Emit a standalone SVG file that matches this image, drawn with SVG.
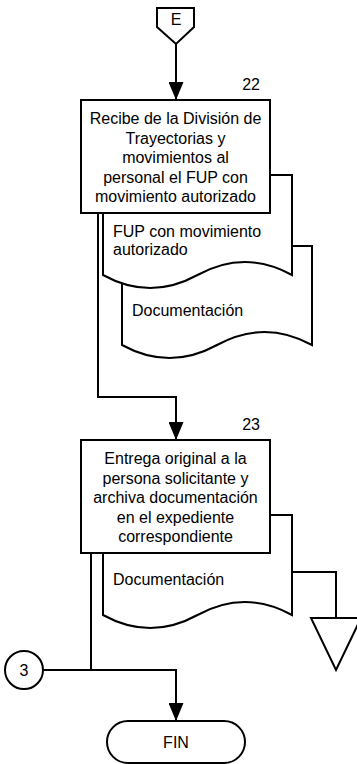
<svg xmlns="http://www.w3.org/2000/svg" width="357" height="764" viewBox="0 0 357 764">
<style>
.s{fill:#fff;stroke:#000;stroke-width:2}
.l{fill:none;stroke:#000;stroke-width:2}
text{font-family:"Liberation Sans",Arial,sans-serif;font-size:16px;fill:#000}
.c{text-anchor:middle}
.r{text-anchor:end}
</style>
<defs>
<marker id="ah" markerWidth="18" markerHeight="15" refX="18" refY="7.5" viewBox="0 0 18 15" markerUnits="userSpaceOnUse" orient="auto">
<path d="M0,0 L18,7.5 L0,15 Z" fill="#000"/>
</marker>
</defs>
<rect width="357" height="764" fill="#fff"/>
<g id="connectors">
<path class="l" d="M176,44 L176,100" marker-end="url(#ah)"/>
<path class="l" d="M98,213 L98,397 L176,397 L176,440" marker-end="url(#ah)"/>
<path class="l" d="M91,553 L91,670"/>
<path class="l" d="M43,670 L176,670 L176,721" marker-end="url(#ah)"/>
<path class="l" d="M292,572 L336,572 L336,618"/>
</g>
<g id="E">
<path class="s" d="M157,8 L194,8 L194,27 L176,44 L157,27 Z"/>
<text class="c" x="176" y="25">E</text>
</g>
<g id="doc2">
<path class="s" d="M122,246 L312,246 L312,345 Q264.5,319 217,345 T122,345 Z"/>
<text x="132" y="316">Documentación</text>
</g>
<g id="doc1">
<path class="s" d="M103,175 L292,175 L292,275 Q244.75,249 197.5,275 T103,275 Z"/>
<text x="113" y="237">FUP con movimiento</text>
<text x="113" y="255">autorizado</text>
</g>
<g id="n22">
<rect class="s" x="81" y="100" width="189" height="113"/>
<text class="r" x="260" y="90">22</text>
<text class="c" x="175.5" y="124">Recibe de la División de</text>
<text class="c" x="175.5" y="143.5">Trayectorias y</text>
<text class="c" x="175.5" y="163">movimientos al</text>
<text class="c" x="175.5" y="182.5">personal el FUP con</text>
<text class="c" x="175.5" y="202">movimiento autorizado</text>
</g>
<g id="doc3">
<path class="s" d="M103,515 L292,515 L292,615 Q244.75,589 197.5,615 T103,615 Z"/>
<text x="113" y="585">Documentación</text>
</g>
<g id="n23">
<rect class="s" x="81" y="440" width="189" height="113"/>
<text class="r" x="260" y="430">23</text>
<text class="c" x="175.5" y="464">Entrega original a la</text>
<text class="c" x="175.5" y="483.5">persona solicitante y</text>
<text class="c" x="175.5" y="503">archiva documentación</text>
<text class="c" x="175.5" y="522.5">en el expediente</text>
<text class="c" x="175.5" y="542">correspondiente</text>
</g>
<g id="archivo">
<path class="s" d="M311,618 L361,618 L336,670 Z"/>
</g>
<g id="c3">
<circle class="s" cx="24" cy="670" r="19"/>
<text class="c" x="24" y="676">3</text>
</g>
<g id="fin">
<rect class="s" x="107" y="721" width="138" height="42" rx="21" ry="21"/>
<text class="c" x="176" y="748">FIN</text>
</g>
</svg>
